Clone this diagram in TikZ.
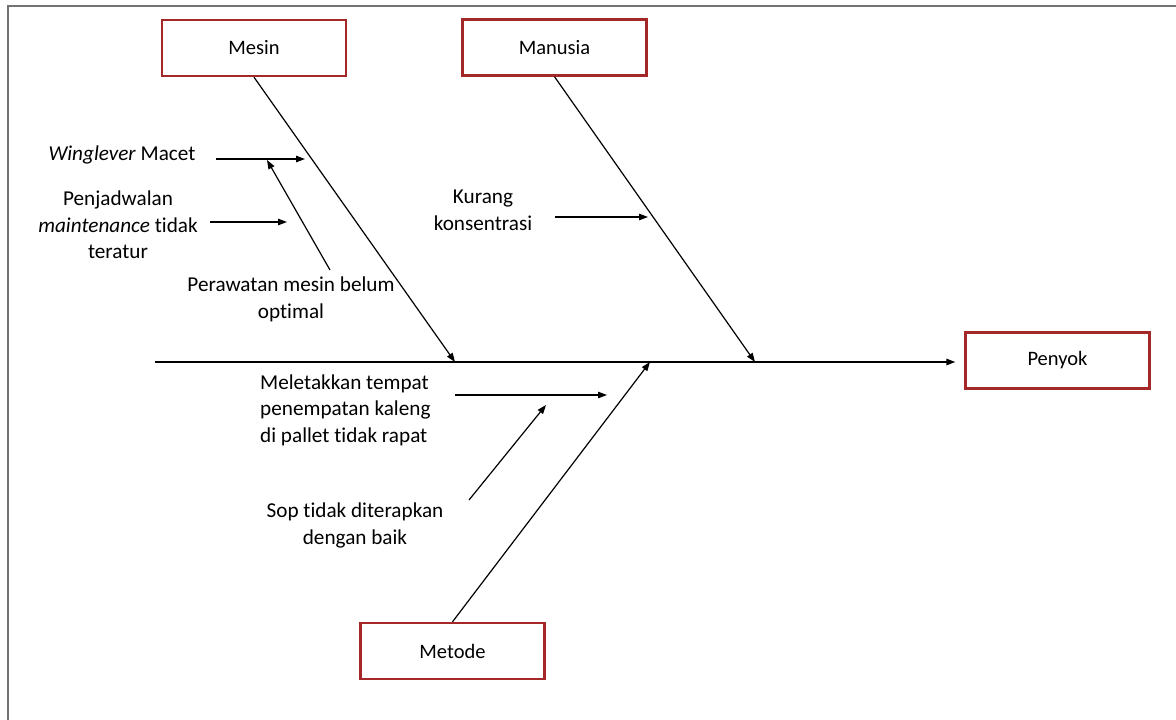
\documentclass[tikz,border=0pt]{standalone}
\usepackage{fontspec}
\setmainfont{Carlito}[Ligatures={NoCommon}]
\usetikzlibrary{arrows.meta}
\definecolor{boxred}{RGB}{165,40,40}
\begin{document}
\begin{tikzpicture}[x=1pt,y=-1pt,
        cat/.style={draw=boxred, line width=2.4pt, minimum width=184pt, minimum height=56pt, inner sep=0, font=\fontsize{20.5}{24}\selectfont},
        txt/.style={align=center, inner sep=0, font=\fontsize{21.2}{26.5}\selectfont},
        arr/.style={-{Triangle[length=9pt,width=6.5pt]}, line width=1.2pt},
    ]
    \useasboundingbox (0,0) rectangle (1176,720);
    \draw[gray!90!black, line width=2pt] (8,720) -- (8,6) -- (1176,6);
    % categories and effect
    \node[cat] (mesin) at (254,48) {Mesin};
    \node[cat] (manusia) at (554.5,47.5) {Manusia};
    \node[cat] (metode) at (452.5,651) {Metode};
    \node[cat] (penyok) at (1057.5,360.5) {Penyok};
    % spine
    \coordinate (tail) at (155,362);
    \draw[arr, line width=1.4pt, shorten >=9pt] (tail) -- (tail -| penyok.west);
    \coordinate (mhead) at (455,362);
    \coordinate (phead) at (755,362);
    \coordinate (thead) at (650,362);
    \draw[arr] (mesin.south) -- (mhead);
    \draw[arr] (manusia.south) -- (phead);
    \draw[arr] (metode.north) -- (thead);
    % causes
    \node[txt] (wm) at (122,155) {\textit{Winglever} Macet};
    \node[txt] (pj) at (118,225) {Penjadwalan\\\textit{maintenance} tidak\\teratur};
    \node[txt] (pm) at (291,299.5) {Perawatan mesin belum\\optimal};
    \node[txt] (kk) at (483,210.5) {Kurang\\konsentrasi};
    \node[txt, align=left, anchor=west] (ml) at (260,410) {Meletakkan tempat\\penempatan kaleng\\di pallet tidak rapat};
    \node[txt] (sop) at (355,525.5) {Sop tidak diterapkan\\dengan baik};
    \coordinate (wm1) at (216,159); \coordinate (wm2) at (305,159);
    \coordinate (pj1) at (210,222); \coordinate (pj2) at (287,222);
    \coordinate (pm1) at (330,270); \coordinate (pm2) at (267,160);
    \coordinate (kk1) at (555,217); \coordinate (kk2) at (648,217);
    \coordinate (ml1) at (455,395); \coordinate (ml2) at (607,395);
    \coordinate (sop1) at (469,500); \coordinate (sop2) at (546,405);
    \draw[arr] (wm1) -- (wm2);
    \draw[arr] (pj1) -- (pj2);
    \draw[arr] (pm1) -- (pm2);
    \draw[arr] (kk1) -- (kk2);
    \draw[arr] (ml1) -- (ml2);
    \draw[arr] (sop1) -- (sop2);
\end{tikzpicture}
\end{document}
